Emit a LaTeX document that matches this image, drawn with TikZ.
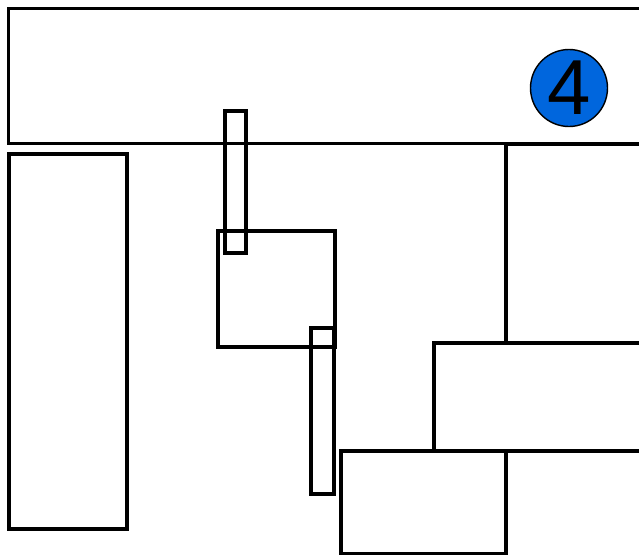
\documentclass[tikz,border=0pt]{standalone}
\usepackage{fontspec}
\setmainfont{Liberation Sans}
\definecolor{badgeblue}{RGB}{0,102,221}
\begin{document}
\begin{tikzpicture}[x=1pt,y=-1pt,
  box/.style={draw=black,line width=3.8pt,rectangle,inner sep=0pt,anchor=north west},
  badge/.style={circle,draw=black,line width=1.4pt,fill=badgeblue,minimum size=77pt,inner sep=0pt,font=\fontsize{78}{78}\selectfont}]
\useasboundingbox (0,0) rectangle (639,554);
\clip (0,0) rectangle (639,554);
\node[box,minimum width=663pt,minimum height=135pt] (top) at (6.5,6.5) {};
\node[box,minimum width=118pt,minimum height=375pt] (left) at (7,152) {};
\node[box,minimum width=21pt,minimum height=142pt] (thinA) at (223,109) {};
\node[box,minimum width=117pt,minimum height=116pt] (sq) at (216,229) {};
\node[box,minimum width=23pt,minimum height=166pt] (thinB) at (309,326) {};
\node[box,minimum width=160pt,minimum height=199pt] (ru) at (504,142) {};
\node[box,minimum width=232pt,minimum height=108pt] (rm) at (432,341) {};
\node[box,minimum width=165pt,minimum height=103pt] (bot) at (339,449) {};
\node[badge] (num) at (569,88) {\raisebox{-0.5pt}{4}};
\end{tikzpicture}
\end{document}
